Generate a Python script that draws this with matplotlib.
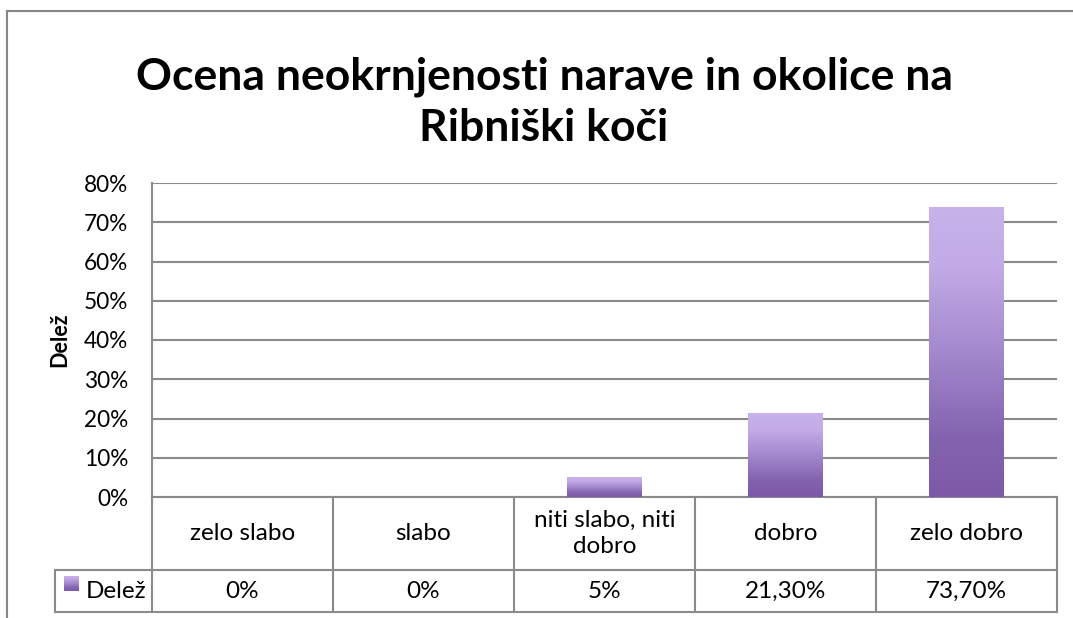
import numpy as np
import matplotlib
matplotlib.use('Agg')
import matplotlib.pyplot as plt
import matplotlib.transforms as mtransforms
from matplotlib.colors import LinearSegmentedColormap
from matplotlib.lines import Line2D

# podatki
categories = ['zelo slabo', 'slabo', 'niti slabo, niti\ndobro', 'dobro', 'zelo dobro']
values = [0.0, 0.0, 5.0, 21.3, 73.7]
value_labels = ['0%', '0%', '5%', '21,30%', '73,70%']
series_name = 'Delež'
title = 'Ocena neokrnjenosti narave in okolice na\nRibniški koči'

plt.rcParams['font.family'] = ['Lato', 'DejaVu Sans']

grid_col = '#8a8a8a'
purple = LinearSegmentedColormap.from_list(
    'vijolicna', [(0.0, '#7D59A7'), (0.2, '#8363AF'), (0.55, '#A88ED2'),
                  (0.8, '#C2ABE6'), (1.0, '#C8B2EA')])
grad = np.linspace(0, 1, 256).reshape(-1, 1)

fig = plt.figure(figsize=(10.73, 6.18), dpi=100)
ax = fig.add_axes([152 / 1073, 1 - 497 / 618, 905 / 1073, 314 / 618])

x = np.arange(len(categories))
bw = 0.41
bars = ax.bar(x, values, width=bw, color='none', zorder=3)
for b in bars:
    h = b.get_height()
    if h <= 0:
        continue
    x0 = b.get_x()
    ax.imshow(grad, extent=[x0, x0 + bw, 0, h], origin='lower', aspect='auto',
              cmap=purple, zorder=3, interpolation='bilinear')

ax.set_xlim(-0.5, len(categories) - 0.5)
ax.set_ylim(0, 80)
ax.set_yticks(np.arange(0, 81, 10))
ax.set_yticklabels(['%d%%' % v for v in range(0, 81, 10)], fontsize=16.3)
ax.set_xticks([])
ax.tick_params(axis='y', length=0, pad=17)
ax.yaxis.grid(True, color=grid_col, lw=1.5, zorder=1)
ax.set_axisbelow(True)
for s in ['top', 'right']:
    ax.spines[s].set_visible(False)
for s in ['left', 'bottom']:
    ax.spines[s].set_color(grid_col)
    ax.spines[s].set_linewidth(1.5)
ax.set_ylabel(series_name, fontsize=15.5, fontweight='bold', labelpad=10)

fig.text(544 / 1073, 1 - 102 / 618, title, ha='center', va='center',
         fontsize=32, fontweight='bold', linespacing=1.32)

# tabela s podatki
tr = mtransforms.blended_transform_factory(ax.transData, ax.transAxes)
r1 = -73 / 314
r2 = -115 / 314
left = -0.5 - 97 / 181
right = len(categories) - 0.5
kw = dict(color=grid_col, lw=1.5, transform=tr, clip_on=False)
ax.add_line(Line2D([left, right], [r1, r1], **kw))
ax.add_line(Line2D([left, right], [r2, r2], **kw))
ax.add_line(Line2D([left, left], [r1, r2], **kw))
for i in range(len(categories) + 1):
    ax.add_line(Line2D([i - 0.5, i - 0.5], [0, r2], **kw))
for i, (c, v) in enumerate(zip(categories, value_labels)):
    ax.text(i, r1 / 2, c, transform=tr, ha='center', va='center', fontsize=17.5,
            linespacing=1.32)
    ax.text(i, (r1 + r2) / 2, v, transform=tr, ha='center', va='center', fontsize=17.5)

# legenda v tabeli
key = fig.add_axes([64 / 1073, 1 - 591 / 618, 15 / 1073, 15 / 618])
key.imshow(grad, origin='lower', aspect='auto', cmap=purple)
key.axis('off')
ax.text(left + 31 / 181, (r1 + r2) / 2, series_name, transform=tr, ha='left',
        va='center', fontsize=17.5)

# okvir grafikona
fig.add_artist(Line2D([7 / 1073, 7 / 1073], [0, 1 - 11 / 618], color='#878787', lw=1.5))
fig.add_artist(Line2D([7 / 1073, 1], [1 - 11 / 618, 1 - 11 / 618], color='#878787', lw=1.5))

fig.savefig('out.png', dpi=100)
